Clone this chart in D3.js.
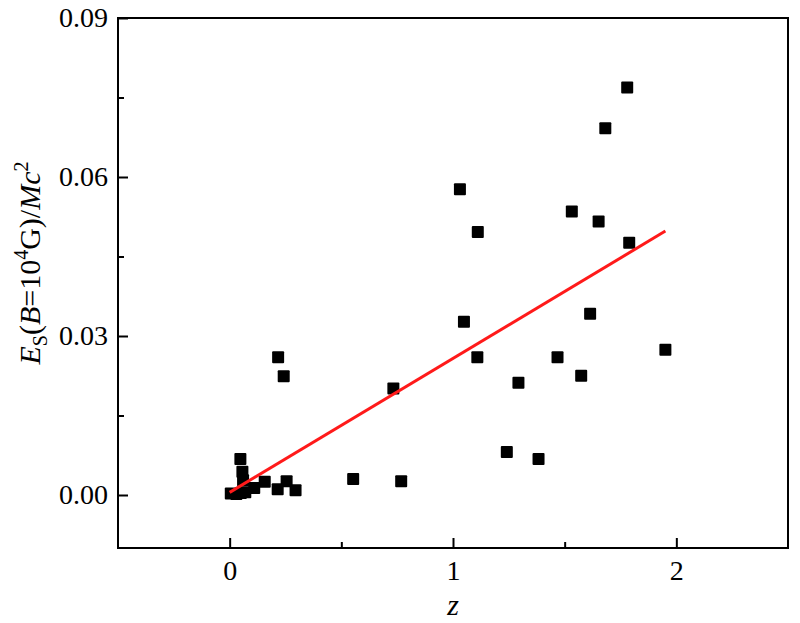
<!DOCTYPE html>
<html lang="en">
<head>
<meta charset="UTF-8">
<title>E_S versus z</title>
<script src="https://d3js.org/d3.v7.min.js"></script>
<style>
  body { margin: 0; background: #fff; }
  svg text { font-family: "Liberation Serif", "Times New Roman", Times, serif; fill: #000; }
</style>
</head>
<body>
<svg id="chart"></svg>
<script>
// data
var zValues = [0.005, 0.03, 0.05, 0.07, 0.11, 0.06, 0.048, 0.057, 0.157, 0.215, 0.255, 0.295,
               0.217, 0.242, 0.553, 0.733, 0.768, 1.031, 1.049, 1.109, 1.111, 1.241, 1.293,
               1.383, 1.468, 1.532, 1.574, 1.614, 1.652, 1.682, 1.780, 1.789, 1.951];
var esValues = [0.0003, 0.0002, 0.0004, 0.0005, 0.0013, 0.0028, 0.0068, 0.0044, 0.0025, 0.0011, 0.0026, 0.0009,
                0.0260, 0.0224, 0.0030, 0.0201, 0.0026, 0.0577, 0.0327, 0.0260, 0.0496, 0.0081, 0.0212,
                0.0068, 0.0260, 0.0535, 0.0225, 0.0342, 0.0516, 0.0692, 0.0769, 0.0476, 0.0274];
// linear fit line end points
var fitZ = [0, 1.951];
var fitE = [0.0005, 0.0498];

var xMajor = [0, 1, 2];
var xMinor = [0.5, 1.5];
var yMajor = [0, 0.03, 0.06, 0.09];
var yMinor = [0.015, 0.045, 0.075];

var width = 800, height = 623;
var margin = {left: 118, right: 12, top: 18, bottom: 75};
var innerW = width - margin.left - margin.right;
var innerH = height - margin.top - margin.bottom;
var serif = "'Liberation Serif', 'Times New Roman', Times, serif";

var svg = d3.select("#chart").attr("width", width).attr("height", height);
var g = svg.append("g").attr("transform", "translate(" + margin.left + "," + margin.top + ")");

var x = d3.scaleLinear().domain([-0.5, 2.5]).range([0, innerW]);
var y = d3.scaleLinear().domain([-0.01, 0.09]).range([innerH, 0]);

// minor ticks (inward, no labels)
g.append("g").attr("transform", "translate(0," + innerH + ")")
  .call(d3.axisBottom(x).tickValues(xMinor).tickSize(-6).tickFormat(""))
  .call(function(s) { s.select(".domain").remove(); })
  .selectAll("line").attr("stroke-width", 2);
g.append("g")
  .call(d3.axisLeft(y).tickValues(yMinor).tickSize(-6).tickFormat(""))
  .call(function(s) { s.select(".domain").remove(); })
  .selectAll("line").attr("stroke-width", 2);

// major ticks
var xAxis = g.append("g").attr("transform", "translate(0," + innerH + ")")
  .attr("font-family", serif)
  .call(d3.axisBottom(x).tickValues(xMajor).tickSize(-10).tickPadding(12).tickFormat(d3.format("d")));
xAxis.attr("font-family", serif).attr("font-size", 28);
xAxis.select(".domain").remove();
xAxis.selectAll("line").attr("stroke-width", 2);

var yAxis = g.append("g")
  .call(d3.axisLeft(y).tickValues(yMajor).tickSize(-10).tickPadding(10).tickFormat(d3.format(".2f")));
yAxis.attr("font-family", serif).attr("font-size", 28);
yAxis.select(".domain").remove();
yAxis.selectAll("line").attr("stroke-width", 2);

// frame
g.append("rect")
  .attr("width", innerW).attr("height", innerH)
  .attr("fill", "none").attr("stroke", "#000").attr("stroke-width", 2);

// points
var pts = zValues.map(function(z, i) { return {z: z, e: esValues[i]}; });
var s = 12;
g.selectAll(".pt").data(pts).enter().append("rect")
  .attr("class", "pt")
  .attr("x", function(d) { return x(d.z) - s / 2; })
  .attr("y", function(d) { return y(d.e) - s / 2; })
  .attr("width", s).attr("height", s).attr("rx", 1)
  .attr("fill", "#000");

// fit line
var line = d3.line().x(function(d) { return x(d[0]); }).y(function(d) { return y(d[1]); });
g.append("path")
  .datum(fitZ.map(function(z, i) { return [z, fitE[i]]; }))
  .attr("d", line)
  .attr("fill", "none").attr("stroke", "#ff1a1a").attr("stroke-width", 3);

// axis titles
svg.append("text")
  .attr("x", margin.left + innerW / 2).attr("y", 615)
  .attr("text-anchor", "middle").attr("font-size", 30).attr("font-style", "italic")
  .text("z");

var yt = svg.append("text")
  .attr("transform", "translate(40," + (margin.top + 245) + ") rotate(-90)")
  .attr("text-anchor", "middle").attr("font-size", 30);
yt.append("tspan").attr("font-style", "italic").text("E");
yt.append("tspan").attr("font-size", 20).attr("dy", 7).text("S");
yt.append("tspan").attr("dy", -7).text("(");
yt.append("tspan").attr("font-style", "italic").text("B");
yt.append("tspan").text("=10");
yt.append("tspan").attr("font-size", 20).attr("dy", -12).text("4");
yt.append("tspan").attr("dy", 12).text("G)/");
yt.append("tspan").attr("font-style", "italic").text("Mc");
yt.append("tspan").attr("font-size", 20).attr("dy", -12).text("2");
</script>
</body>
</html>
